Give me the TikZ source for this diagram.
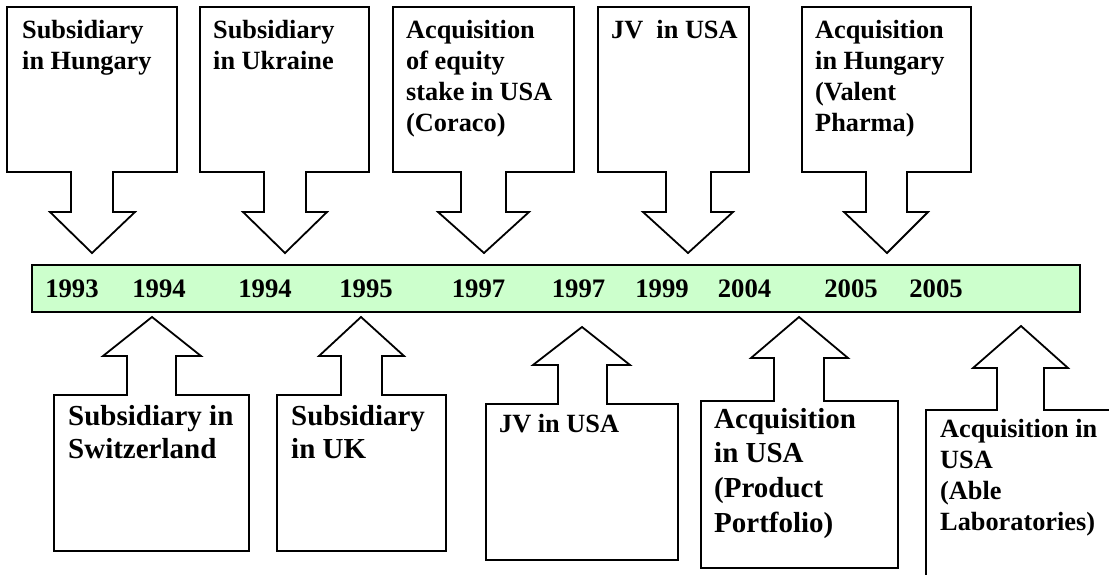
\documentclass[tikz,border=0pt]{standalone}
\usepackage{fontspec}
\setmainfont{Liberation Serif}
\definecolor{tlgreen}{HTML}{CCFFCC}
\newcommand{\tlines}[1]{\begin{tabular}[t]{@{}l@{}}#1\end{tabular}}
\begin{document}
\begin{tikzpicture}[x=1pt,y=-1pt,
  callout/.style={draw=black, line width=1.8pt, fill=white, line join=miter},
  bar/.style={draw=black, line width=1.8pt, fill=tlgreen},
  smalltxt/.style={anchor=base west, inner sep=0pt, font=\bfseries\fontsize{26.3}{31}\selectfont},
  bigtxt/.style={anchor=base west, inner sep=0pt, font=\bfseries\fontsize{29}{33}\selectfont},
  bigtxtb/.style={anchor=base west, inner sep=0pt, font=\bfseries\fontsize{29}{34.7}\selectfont},
  year/.style={anchor=base, inner sep=0pt, font=\bfseries\fontsize{26.7}{31}\selectfont}]
\useasboundingbox (0,0) rectangle (1109,575);
\clip (0,0) rectangle (1109,575);

% timeline bar
\draw[bar] (32,265) rectangle (1080,312);
\node[year] (y1) at (72,297) {1993};
\node[year] (y2) at (159,297) {1994};
\node[year] (y3) at (265,297) {1994};
\node[year] (y4) at (366,297) {1995};
\node[year] (y5) at (478.5,297) {1997};
\node[year] (y6) at (578.5,297) {1997};
\node[year] (y7) at (662,297) {1999};
\node[year] (y8) at (744.5,297) {2004};
\node[year] (y9) at (851,297) {2005};
\node[year] (y10) at (936,297) {2005};

% top callouts (pointing down)
\draw[callout] (7,7) -- (177,7) -- (177,172) -- (113,172) -- (113,212) -- (135,212) -- (92,253) -- (50,212) -- (71,212) -- (71,172) -- (7,172) -- cycle;
\draw[callout] (200,7) -- (369,7) -- (369,172) -- (306,172) -- (306,212) -- (327,212) -- (285,253) -- (243,212) -- (264,212) -- (264,172) -- (200,172) -- cycle;
\draw[callout] (393,7) -- (574,7) -- (574,172) -- (506,172) -- (506,212) -- (529,212) -- (484,253) -- (438,212) -- (461,212) -- (461,172) -- (393,172) -- cycle;
\draw[callout] (598,7) -- (749,7) -- (749,172) -- (711,172) -- (711,212) -- (733,212) -- (688,253) -- (643,212) -- (666,212) -- (666,172) -- (598,172) -- cycle;
\draw[callout] (802,7) -- (971,7) -- (971,172) -- (907,172) -- (907,212) -- (928,212) -- (887,253) -- (844,212) -- (866,212) -- (866,172) -- (802,172) -- cycle;

\node[smalltxt] (t1) at (22,38.5) {\tlines{Subsidiary\\in Hungary}};
\node[smalltxt] (t2) at (213,38.5) {\tlines{Subsidiary\\in Ukraine}};
\node[smalltxt] (t3) at (406,38.5) {\tlines{Acquisition\\of equity\\stake in USA\\(Coraco)}};
\node[smalltxt] (t4) at (611,38.5) {JV\ \ in USA};
\node[smalltxt] (t5) at (815,38.5) {\tlines{Acquisition\\in Hungary\\(Valent\\Pharma)}};

% bottom callouts (pointing up)
\draw[callout] (152,317) -- (201,356) -- (176,356) -- (176,395) -- (249,395) -- (249,551) -- (54,551) -- (54,395) -- (127,395) -- (127,356) -- (103,356) -- cycle;
\draw[callout] (361,317) -- (404,356) -- (382,356) -- (382,395) -- (446,395) -- (446,551) -- (277,551) -- (277,395) -- (341,395) -- (341,356) -- (319,356) -- cycle;
\draw[callout] (582,327) -- (630,365) -- (607,365) -- (607,404) -- (678,404) -- (678,560) -- (486,560) -- (486,404) -- (558,404) -- (558,365) -- (533,365) -- cycle;
\draw[callout] (799,317) -- (848,358) -- (824,358) -- (824,401) -- (898,401) -- (898,568) -- (701,568) -- (701,401) -- (774,401) -- (774,358) -- (751,358) -- cycle;
\draw[callout] (1021,326) -- (1068,368) -- (1044,368) -- (1044,410) -- (1125,410) -- (1125,590) -- (926,590) -- (926,410) -- (997,410) -- (997,368) -- (973,368) -- cycle;

\node[bigtxt] (b1) at (68,425) {\tlines{Subsidiary in\\Switzerland}};
\node[bigtxt] (b2) at (291,425) {\tlines{Subsidiary\\in UK}};
\node[smalltxt] (b3) at (499,432) {JV in USA};
\node[bigtxtb] (b4) at (714,428) {\tlines{Acquisition\\in USA\\(Product\\Portfolio)}};
\node[smalltxt] (b5) at (940,437) {\tlines{Acquisition in\\USA\\(Able\\Laboratories)}};
\end{tikzpicture}
\end{document}
